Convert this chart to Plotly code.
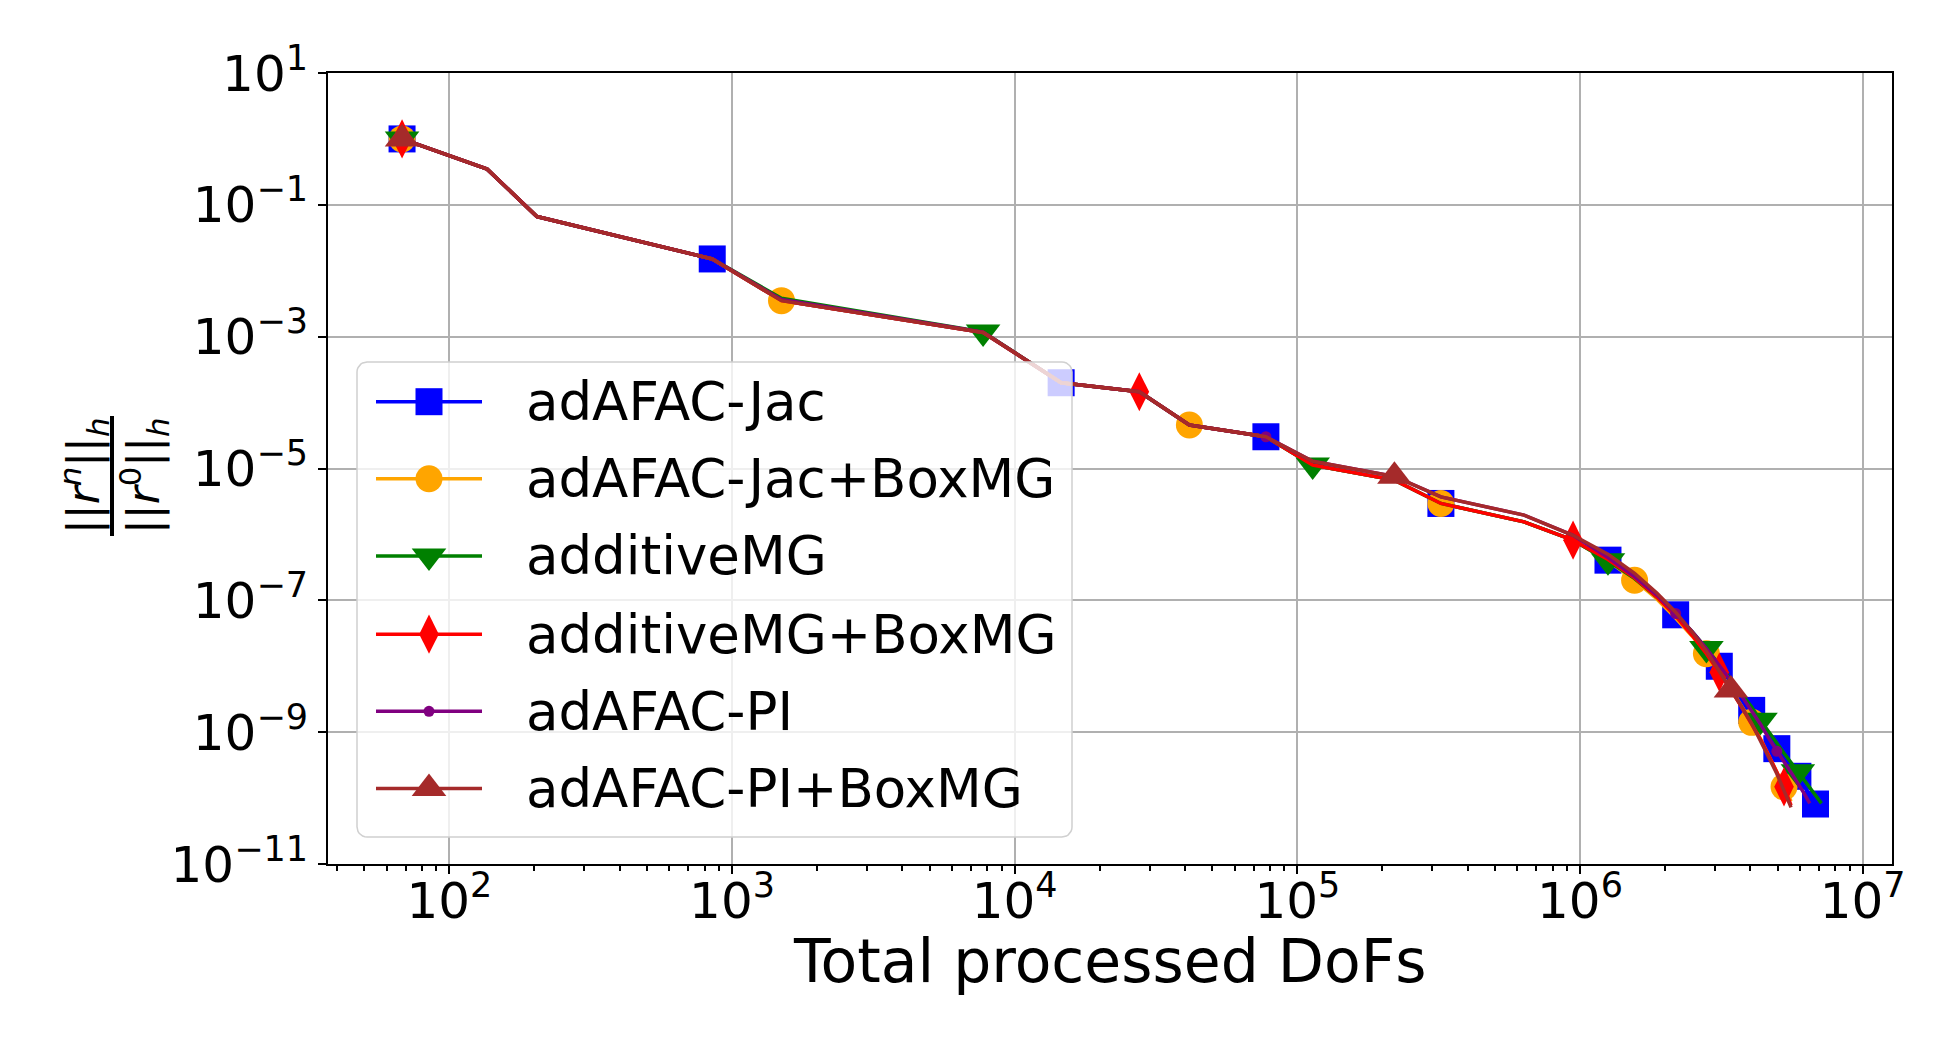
import numpy as np
import plotly.graph_objects as go

# ---------------- data ----------------
X_DOFS = [68, 136, 204, 851, 1496, 7730, 14600, 27600, 41500, 77400,
          113300, 220500, 322000, 634000, 945000, 1256000, 1560000, 1870000,
          2180000, 2490000, 2800000, 3110000, 3420000, 3730000, 4050000,
          4350000, 4650000, 4970000, 5270000, 5580000, 5900000, 6190000,
          6500000, 6810000, 7150000]

Y_ADAFAC_JAC = [1.0, 0.348, 0.0664, 0.0151, 0.00352, 0.00116, 2.0e-4, 1.46e-4, 4.56e-5, 3.03e-5,
                1.13e-5, 6.67e-6, 2.95e-6, 1.55e-6, 8.18e-7, 4.07e-7, 2.14e-7, 1.15e-7, 6.03e-8,
                3.31e-8, 1.82e-8, 1.0e-8, 5.89e-9, 3.55e-9, 2.14e-9, 1.35e-9, 8.71e-10, 5.62e-10,
                4.07e-10, 2.95e-10, 2.14e-10, 1.55e-10, 1.12e-10, 8.13e-11]
Y_ADAFAC_JAC_BOXMG = [1.0, 0.348, 0.0664, 0.0151, 0.00352, 0.00116, 2.0e-4, 1.46e-4, 4.56e-5, 3.03e-5,
                      1.13e-5, 6.67e-6, 2.95e-6, 1.55e-6, 8.18e-7, 3.98e-7, 2.02e-7, 1.05e-7, 5.37e-8,
                      2.88e-8, 1.55e-8, 8.32e-9, 4.47e-9, 2.51e-9, 1.41e-9, 7.94e-10, 4.47e-10,
                      2.57e-10, 1.48e-10, 8.91e-11]
Y_ADDITIVE_MG = [1.0, 0.348, 0.0664, 0.0151, 0.00383, 0.00118, 2.0e-4, 1.46e-4, 4.56e-5, 3.03e-5,
                 1.13e-5, 6.67e-6, 2.95e-6, 1.55e-6, 8.18e-7, 3.98e-7, 2.14e-7, 1.12e-7, 6.17e-8,
                 3.39e-8, 1.86e-8, 1.07e-8, 6.31e-9, 3.80e-9, 2.40e-9, 1.51e-9, 1.0e-9, 6.76e-10,
                 4.79e-10, 3.47e-10, 2.51e-10, 1.91e-10, 1.45e-10, 1.10e-10, 8.32e-11]
Y_ADDITIVE_MG_BOXMG = [1.0, 0.348, 0.0664, 0.0151, 0.00352, 0.00116, 2.0e-4, 1.46e-4, 4.56e-5, 3.03e-5,
                       1.13e-5, 6.67e-6, 2.95e-6, 1.55e-6, 8.18e-7, 4.17e-7, 2.19e-7, 1.12e-7, 5.75e-8,
                       2.95e-8, 1.55e-8, 8.13e-9, 4.37e-9, 2.40e-9, 1.35e-9, 7.76e-10, 4.47e-10,
                       2.57e-10, 1.48e-10, 7.76e-11]
Y_ADAFAC_PI = [1.0, 0.348, 0.0664, 0.0151, 0.00365, 0.00117, 2.0e-4, 1.46e-4, 4.56e-5, 3.03e-5,
               1.29e-5, 7.6e-6, 3.71e-6, 1.96e-6, 9.7e-7, 4.47e-7, 2.29e-7, 1.20e-7, 6.31e-8,
               3.39e-8, 1.86e-8, 1.05e-8, 6.03e-9, 3.55e-9, 2.14e-9, 1.32e-9, 8.13e-10, 5.13e-10,
               3.55e-10, 2.45e-10, 1.70e-10, 1.20e-10, 8.32e-11]
Y_ADAFAC_PI_BOXMG = [1.0, 0.348, 0.0664, 0.0151, 0.00352, 0.00116, 2.0e-4, 1.46e-4, 4.56e-5, 3.03e-5,
                     1.29e-5, 7.6e-6, 3.71e-6, 1.96e-6, 9.7e-7, 5.01e-7, 2.57e-7, 1.29e-7, 6.61e-8,
                     3.31e-8, 1.70e-8, 8.51e-9, 4.37e-9, 2.45e-9, 1.35e-9, 7.59e-10, 4.17e-10,
                     2.34e-10, 1.29e-10, 7.24e-11]

SERIES_NAMES = ["adAFAC-Jac", "adAFAC-Jac+BoxMG", "additiveMG",
                "additiveMG+BoxMG", "adAFAC-PI", "adAFAC-PI+BoxMG"]
SERIES_Y = [Y_ADAFAC_JAC, Y_ADAFAC_JAC_BOXMG, Y_ADDITIVE_MG,
            Y_ADDITIVE_MG_BOXMG, Y_ADAFAC_PI, Y_ADAFAC_PI_BOXMG]

X_TICK_VALUES = [1e2, 1e3, 1e4, 1e5, 1e6, 1e7]
X_TICK_LABELS = ["10<sup>2</sup>", "10<sup>3</sup>", "10<sup>4</sup>",
                 "10<sup>5</sup>", "10<sup>6</sup>", "10<sup>7</sup>"]
Y_TICK_VALUES = [1e1, 1e-1, 1e-3, 1e-5, 1e-7, 1e-9, 1e-11]
Y_TICK_LABELS = ["10<sup>1</sup>", "10<sup>\u22121</sup>", "10<sup>\u22123</sup>",
                 "10<sup>\u22125</sup>", "10<sup>\u22127</sup>", "10<sup>\u22129</sup>",
                 "10<sup>\u221211</sup>"]

X_LABEL = "Total processed DoFs"

# ---------------- styles ----------------
COLORS = ["#0000ff", "#ffa500", "#008000", "#ff0000", "#800080", "#a52a2a"]
SYMBOLS = ["square", "circle", "triangle-down", "diamond-tall", "circle", "triangle-up"]
MSIZES = [27, 27, 30, 28, 11, 30]
MARK_EVERY = [3, 4, 5, 7, 9, 11]
FONT = "DejaVu Sans"
LW = 3.5

W, H = 1950, 1050
L, R, T, B = 328, 58, 73, 186
PW, PH = W - L - R, H - T - B


def fx(px):
    return (px - L) / PW


def fy(py):
    return (T + PH - py) / PH


fig = go.Figure()

for name, ys, col, sym, ms, every in zip(SERIES_NAMES, SERIES_Y, COLORS, SYMBOLS, MSIZES, MARK_EVERY):
    xs = X_DOFS[:len(ys)]
    sizes = [ms if i % every == 0 else 0 for i in range(len(ys))]
    fig.add_trace(go.Scatter(
        x=xs, y=ys, mode="lines+markers", name=name, showlegend=False,
        line=dict(color=col, width=LW),
        marker=dict(symbol=sym, size=sizes, color=col, opacity=1, line=dict(width=0)),
        hoverinfo="skip", cliponaxis=False,
    ))

# ---------------- custom legend (overlay axes, 0..1 linear) ----------------
bx0, bx1, by0, by1 = fx(357), fx(1072), fy(837), fy(362)
rad = 10
rx, ry = rad / PW, rad / PH
pts_x, pts_y = [], []
corners = [(bx1 - rx, by0 + ry, -90, 0), (bx1 - rx, by1 - ry, 0, 90),
           (bx0 + rx, by1 - ry, 90, 180), (bx0 + rx, by0 + ry, 180, 270)]
for cx, cy, a0, a1 in corners:
    for a in np.linspace(np.radians(a0), np.radians(a1), 8):
        pts_x.append(cx + rx * np.cos(a))
        pts_y.append(cy + ry * np.sin(a))
pts_x.append(pts_x[0])
pts_y.append(pts_y[0])
fig.add_trace(go.Scatter(
    x=pts_x, y=pts_y, xaxis="x2", yaxis="y2", mode="lines", fill="toself",
    fillcolor="rgba(255,255,255,0.8)", line=dict(color="#d0d0d0", width=1.5),
    showlegend=False, hoverinfo="skip",
))

row_py = [401.7, 478.8, 555.9, 634.2, 711.3, 788.4]
lx0, lx1, lxm, tx = fx(376), fx(482), fx(429), fx(524)
for name, col, sym, ms, py in zip(SERIES_NAMES, COLORS, SYMBOLS, MSIZES, row_py):
    yy = fy(py)
    fig.add_trace(go.Scatter(
        x=[lx0, lx1], y=[yy, yy], xaxis="x2", yaxis="y2", mode="lines",
        line=dict(color=col, width=LW), showlegend=False, hoverinfo="skip",
    ))
    fig.add_trace(go.Scatter(
        x=[lxm], y=[yy], xaxis="x2", yaxis="y2", mode="markers",
        marker=dict(symbol=sym, size=ms, color=col, opacity=1, line=dict(width=0)),
        showlegend=False, hoverinfo="skip",
    ))
    fig.add_annotation(x=tx, y=yy, xref="paper", yref="paper", text=name,
                       showarrow=False, xanchor="left", yanchor="middle",
                       font=dict(family=FONT, size=53, color="black"))

# ---------------- y-axis label as a fraction ----------------
num = "||<i>r</i><sup><i>n</i></sup>||<sub><i>h</i></sub>"
den = "||<i>r</i><sup>0</sup>||<sub><i>h</i></sub>"
yc = fy(476)
fig.add_annotation(x=fx(84), y=yc, xref="paper", yref="paper", text=num, textangle=-90,
                   showarrow=False, xanchor="center", yanchor="middle",
                   font=dict(family=FONT, size=44, color="black"))
fig.add_annotation(x=fx(144), y=yc, xref="paper", yref="paper", text=den, textangle=-90,
                   showarrow=False, xanchor="center", yanchor="middle",
                   font=dict(family=FONT, size=44, color="black"))
fig.add_shape(type="line", xref="paper", yref="paper", x0=fx(112), x1=fx(112),
              y0=fy(536), y1=fy(416), line=dict(color="black", width=4))

# x-axis title
fig.add_annotation(x=0.5, y=fy(961), xref="paper", yref="paper", text=X_LABEL,
                   showarrow=False, xanchor="center", yanchor="middle",
                   font=dict(family=FONT, size=60, color="black"))

axis_common = dict(
    showline=True, linecolor="black", linewidth=2, mirror=True,
    ticks="outside", ticklen=8, tickwidth=2, tickcolor="black",
    showgrid=True, gridcolor="#b0b0b0", gridwidth=1.5, zeroline=False,
    tickfont=dict(family=FONT, size=50, color="black"),
)

fig.update_layout(
    width=W, height=H,
    margin=dict(l=L, r=R, t=T, b=B, autoexpand=False),
    paper_bgcolor="white", plot_bgcolor="white",
    font=dict(family=FONT, color="black"),
    showlegend=False,
    xaxis=dict(type="log", range=[np.log10(37.2), np.log10(1.27e7)],
               tickmode="array", tickvals=X_TICK_VALUES, ticktext=X_TICK_LABELS,
               ticklabelstandoff=-16,
               minor=dict(ticks="outside", ticklen=5, tickwidth=1.5, tickcolor="black",
                          dtick="D1", showgrid=False),
               **axis_common),
    yaxis=dict(type="log", range=[-11, 1],
               tickmode="array", tickvals=Y_TICK_VALUES, ticktext=Y_TICK_LABELS,
               **axis_common),
    xaxis2=dict(overlaying="x", range=[0, 1], visible=False, fixedrange=True),
    yaxis2=dict(overlaying="y", range=[0, 1], visible=False, fixedrange=True),
)

fig.write_html("out.html")
